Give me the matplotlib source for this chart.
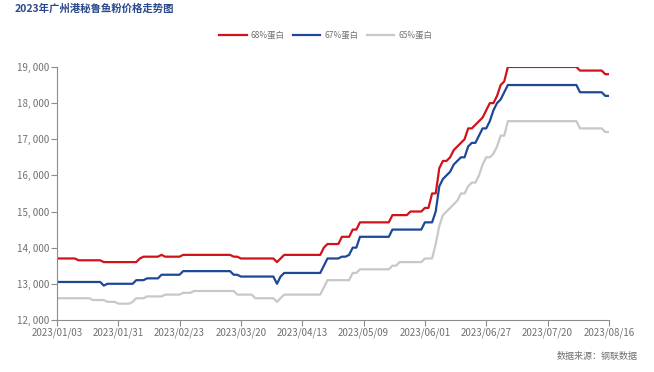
import matplotlib.pyplot as plt
import numpy as np

plt.rcParams['font.family'] = ['Noto Sans CJK SC', 'DejaVu Sans']

# ---------------- DATA ----------------
# one value per trading day, 2023/01/03 .. 2023/08/16 (17 days per row)
p68 = [13700, 13700, 13700, 13700, 13700, 13700, 13650, 13650, 13650, 13650, 13650, 13650, 13650, 13600, 13600, 13600, 13600,
       13600, 13600, 13600, 13600, 13600, 13600, 13700, 13750, 13750, 13750, 13750, 13750, 13800, 13750, 13750, 13750, 13750,
       13750, 13800, 13800, 13800, 13800, 13800, 13800, 13800, 13800, 13800, 13800, 13800, 13800, 13800, 13800, 13750, 13750,
       13700, 13700, 13700, 13700, 13700, 13700, 13700, 13700, 13700, 13700, 13600, 13700, 13800, 13800, 13800, 13800, 13800,
       13800, 13800, 13800, 13800, 13800, 13800, 14000, 14100, 14100, 14100, 14100, 14300, 14300, 14300, 14500, 14500, 14700,
       14700, 14700, 14700, 14700, 14700, 14700, 14700, 14700, 14900, 14900, 14900, 14900, 14900, 15000, 15000, 15000, 15000,
       15100, 15100, 15500, 15500, 16200, 16400, 16400, 16500, 16700, 16800, 16900, 17000, 17300, 17300, 17400, 17500, 17600,
       17800, 18000, 18000, 18200, 18500, 18600, 19000, 19000, 19000, 19000, 19000, 19000, 19000, 19000, 19000, 19000, 19000,
       19000, 19000, 19000, 19000, 19000, 19000, 19000, 19000, 19000, 18900, 18900, 18900, 18900, 18900, 18900, 18900, 18800,
       18800]

p67 = [13050, 13050, 13050, 13050, 13050, 13050, 13050, 13050, 13050, 13050, 13050, 13050, 13050, 12950, 13000, 13000, 13000,
       13000, 13000, 13000, 13000, 13000, 13100, 13100, 13100, 13150, 13150, 13150, 13150, 13250, 13250, 13250, 13250, 13250,
       13250, 13350, 13350, 13350, 13350, 13350, 13350, 13350, 13350, 13350, 13350, 13350, 13350, 13350, 13350, 13250, 13250,
       13200, 13200, 13200, 13200, 13200, 13200, 13200, 13200, 13200, 13200, 13000, 13200, 13300, 13300, 13300, 13300, 13300,
       13300, 13300, 13300, 13300, 13300, 13300, 13500, 13700, 13700, 13700, 13700, 13750, 13750, 13800, 14000, 14000, 14300,
       14300, 14300, 14300, 14300, 14300, 14300, 14300, 14300, 14500, 14500, 14500, 14500, 14500, 14500, 14500, 14500, 14500,
       14700, 14700, 14700, 15000, 15700, 15900, 16000, 16100, 16300, 16400, 16500, 16500, 16800, 16900, 16900, 17100, 17300,
       17300, 17500, 17800, 18000, 18100, 18300, 18500, 18500, 18500, 18500, 18500, 18500, 18500, 18500, 18500, 18500, 18500,
       18500, 18500, 18500, 18500, 18500, 18500, 18500, 18500, 18500, 18300, 18300, 18300, 18300, 18300, 18300, 18300, 18200,
       18200]

p65 = [12600, 12600, 12600, 12600, 12600, 12600, 12600, 12600, 12600, 12600, 12550, 12550, 12550, 12550, 12500, 12500, 12500,
       12450, 12450, 12450, 12450, 12500, 12600, 12600, 12600, 12650, 12650, 12650, 12650, 12650, 12700, 12700, 12700, 12700,
       12700, 12750, 12750, 12750, 12800, 12800, 12800, 12800, 12800, 12800, 12800, 12800, 12800, 12800, 12800, 12800, 12700,
       12700, 12700, 12700, 12700, 12600, 12600, 12600, 12600, 12600, 12600, 12500, 12600, 12700, 12700, 12700, 12700, 12700,
       12700, 12700, 12700, 12700, 12700, 12700, 12900, 13100, 13100, 13100, 13100, 13100, 13100, 13100, 13300, 13300, 13400,
       13400, 13400, 13400, 13400, 13400, 13400, 13400, 13400, 13500, 13500, 13600, 13600, 13600, 13600, 13600, 13600, 13600,
       13700, 13700, 13700, 14100, 14600, 14900, 15000, 15100, 15200, 15300, 15500, 15500, 15700, 15800, 15800, 16000, 16300,
       16500, 16500, 16600, 16800, 17100, 17100, 17500, 17500, 17500, 17500, 17500, 17500, 17500, 17500, 17500, 17500, 17500,
       17500, 17500, 17500, 17500, 17500, 17500, 17500, 17500, 17500, 17300, 17300, 17300, 17300, 17300, 17300, 17300, 17200,
       17200]

tick_labels = ["2023/01/03", "2023/01/31", "2023/02/23", "2023/03/20", "2023/04/13",
               "2023/05/09", "2023/06/01", "2023/06/27", "2023/07/20", "2023/08/16"]
names = ["68%蛋白", "67%蛋白", "65%蛋白"]
colors = ["#d0121b", "#1c4896", "#c8c8c8"]

# ---------------- CHART ----------------
fig = plt.figure(figsize=(6.54, 3.72), dpi=100)
ax = fig.add_axes([0.087, 0.14, 0.844, 0.68])

x = np.arange(len(p68))
for series, name, c in zip([p68, p67, p65], names, colors):
    ax.plot(x, series, color=c, lw=1.6, label=name, solid_joinstyle='round')

ax.set_xlim(0, len(x) - 1)
ax.set_ylim(12000, 19000)
ax.set_yticks(range(12000, 19001, 1000))
ax.set_yticklabels(["{:,}".format(v).replace(",", ", ") for v in range(12000, 19001, 1000)])
ax.set_xticks(np.arange(0, len(x), 17))
ax.set_xticklabels(tick_labels)

for s in ["top", "right"]:
    ax.spines[s].set_visible(False)
for s in ["left", "bottom"]:
    ax.spines[s].set_color("#8c8c8c")
    ax.spines[s].set_linewidth(0.8)
ax.tick_params(axis="both", colors="#8c8c8c", labelcolor="#707070", labelsize=7, length=4, width=0.8, pad=1.5)

ax.legend(loc="center", bbox_to_anchor=(0.487, 1.126), ncol=3, frameon=False, fontsize=6,
          handlelength=3.3, columnspacing=1.0, handletextpad=0.5, labelcolor="#707070")

fig.text(0.022, 0.99, "2023年广州港秘鲁鱼粉价格走势图", color="#2a4a8c", fontsize=7.5,
         fontweight="bold", va="top", ha="left")
fig.text(0.975, 0.03, "数据来源：钢联数据", color="#707070", fontsize=6.5, ha="right", va="bottom")

plt.savefig("out.png", dpi=100)
plt.close()
